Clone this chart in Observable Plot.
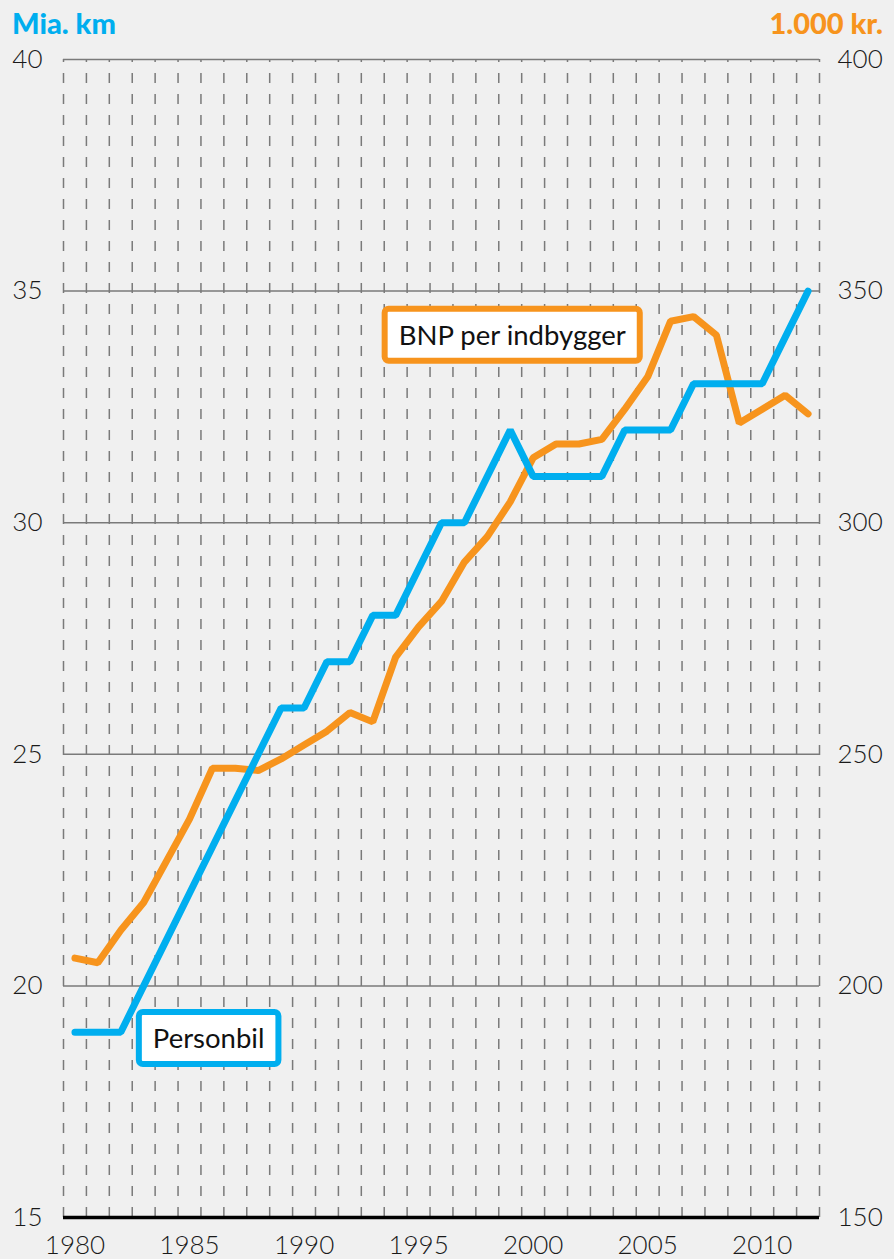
<!DOCTYPE html>
<html>
<head>
<meta charset="utf-8">
<script src="https://cdn.jsdelivr.net/npm/d3@7"></script>
<script src="https://cdn.jsdelivr.net/npm/@observablehq/plot@0.6"></script>
<style>
  html, body { margin: 0; padding: 0; background: #f0f0f0; }
  #wrap { width: 894px; height: 1259px; position: relative; background: #f0f0f0; }
  #header { position: relative; height: 28px; font-family: Lato, "Open Sans", sans-serif; }
  #header span { position: absolute; top: 8px; font-size: 29px; line-height: 29px; font-weight: 900; white-space: nowrap; }
  #lt { left: 12px; color: #00aeef; }
  #rt { right: 11px; color: #f7941d; }
  svg { display: block; }
</style>
</head>
<body>
<div id="wrap">
  <div id="chart"></div>
  <div id="header" style="position:absolute;left:0;top:0;width:894px;"><span id="lt">Mia. km</span><span id="rt">1.000 kr.</span></div>
</div>
<script>
const years = d3.range(1980, 2013);
const personbil = [19, 19, 19, 20, 21, 22, 23, 24, 25, 26, 26, 27, 27, 28, 28, 29, 30, 30, 31, 32,
                   31, 31, 31, 31, 32, 32, 32, 33, 33, 33, 33, 34, 35];
const bnp = [206, 205, 212, 218, 227, 236, 247, 247, 246.5, 249, 252, 255, 259, 257, 271, 277.5,
             283, 291.5, 297, 304.5, 314, 317, 317, 318, 324.5, 331.5, 343.5, 344.5, 340.5, 321.5, 324.5, 327.5, 323.5];
const leftTicks = [15, 20, 25, 30, 35, 40];
const rightTicks = [150, 200, 250, 300, 350, 400];
const xTicks = [1980, 1985, 1990, 1995, 2000, 2005, 2010];
const labelAnchors = [
  {name: "Personbil", year: 1983.4, value: 18.84, color: "#00aeef"},
  {name: "BNP per indbygger", year: 1994.13, value: 34.02, color: "#f7941d"}
];

const blue = "#00aeef", orange = "#f7941d";
const carData = years.map((y, i) => ({year: y, value: personbil[i]}));
const bnpData = years.map((y, i) => ({year: y, value: bnp[i] / 10}));
const bands = d3.range(years[0] - 0.5, years[years.length - 1] + 1, 1);

const plot = Plot.plot({
  width: 894,
  height: 1259,
  marginTop: 59,
  marginBottom: 42,
  marginLeft: 63,
  marginRight: 75,
  style: {background: "#f0f0f0", fontFamily: "Lato, 'Open Sans', sans-serif", color: "#1a1a1a"},
  x: {domain: [years[0] - 0.5, years[years.length - 1] + 0.5]},
  y: {domain: [15, 40]},
  marks: [
    Plot.ruleX(bands, {y1: 15, y2: 40, stroke: "#7a7a7a", strokeWidth: 1.5, strokeDasharray: "10,11"}),
    Plot.ruleY(leftTicks.filter(d => d > 15), {stroke: "#7a7a7a", strokeWidth: 1.5}),
    Plot.ruleY([15], {stroke: "#000", strokeWidth: 3.5}),
    Plot.axisY({anchor: "left", ticks: leftTicks, tickSize: 0, tickPadding: 21, fontSize: 26, fontWeight: 300, label: null, fill: "#1a1a1a"}),
    Plot.axisY({anchor: "right", ticks: rightTicks.map(d => d / 10), tickFormat: d => String(Math.round(d * 10)), tickSize: 0, tickPadding: 18, fontSize: 26, fontWeight: 300, label: null, fill: "#1a1a1a"}),
    Plot.axisX({ticks: xTicks, tickFormat: d => String(d), tickSize: 0, tickPadding: 18, fontSize: 26, fontWeight: 300, label: null, fill: "#1a1a1a"}),
    Plot.line(bnpData, {x: "year", y: "value", stroke: orange, strokeWidth: 7, strokeLinecap: "round", strokeLinejoin: "miter"}),
    Plot.line(carData, {x: "year", y: "value", stroke: blue, strokeWidth: 7, strokeLinecap: "round", strokeLinejoin: "miter"}),
    Plot.text(labelAnchors, {x: "year", y: "value", text: "name", textAnchor: "start", fontSize: 27.5, fill: "#111", className: "serieslabel"})
  ]
});
document.getElementById("chart").appendChild(plot);

// boxes behind series labels, sized from the rendered text
const g = plot.querySelector("g.serieslabel") || plot.querySelector(".serieslabel");
const texts = g ? Array.from(g.querySelectorAll("text")) : [];
texts.forEach((t, i) => {
  const bb = t.getBBox();
  const cy = bb.y + bb.height / 2;
  const rect = document.createElementNS("http://www.w3.org/2000/svg", "rect");
  rect.setAttribute("x", bb.x - 14);
  rect.setAttribute("y", cy - 26);
  rect.setAttribute("width", bb.width + 28);
  rect.setAttribute("height", 52);
  rect.setAttribute("rx", 4);
  rect.setAttribute("fill", "#fff");
  rect.setAttribute("stroke", labelAnchors[i].color);
  rect.setAttribute("stroke-width", 6);
  const tr = t.getAttribute("transform");
  if (tr) rect.setAttribute("transform", tr);
  t.parentNode.insertBefore(rect, t);
});
</script>
</body>
</html>
